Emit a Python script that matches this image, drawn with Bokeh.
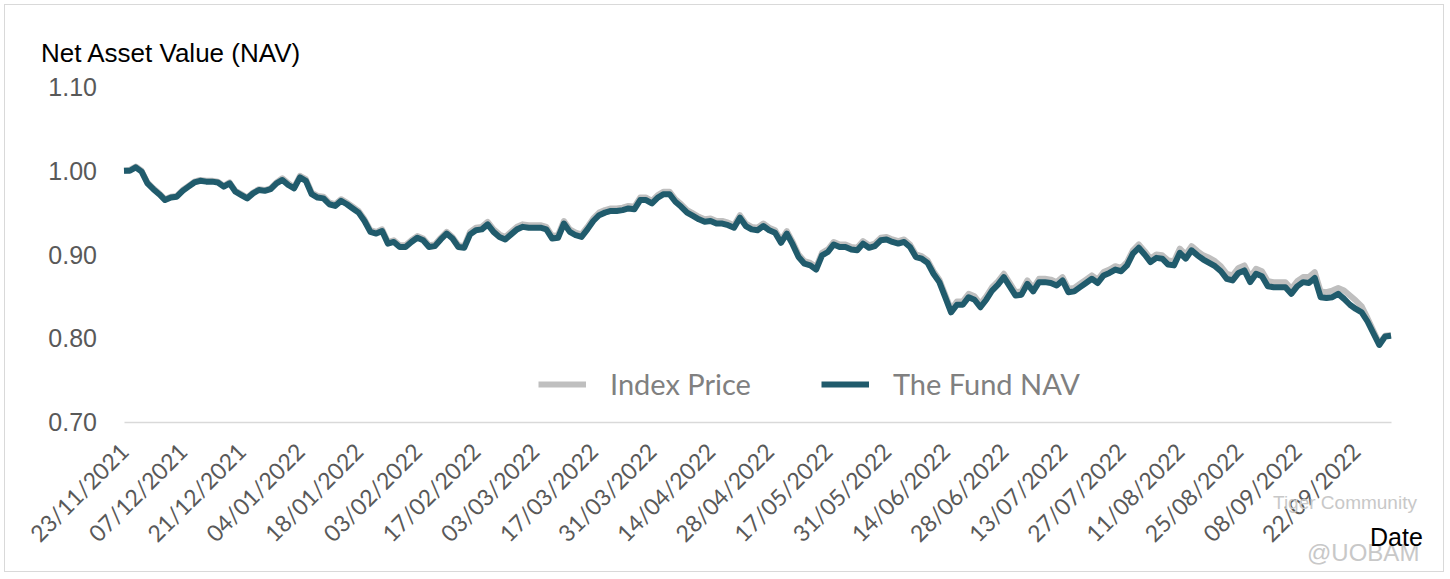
from bokeh.plotting import figure
from bokeh.models import (FixedTicker, Label, Legend, LegendItem, Range1d,
                          NumeralTickFormatter)
from bokeh.embed import file_html
from bokeh.resources import INLINE
from math import pi

# ---------------- data ----------------
tick_labels = ["23/11/2021", "07/12/2021", "21/12/2021", "04/01/2022", "18/01/2022",
               "03/02/2022", "17/02/2022", "03/03/2022", "17/03/2022", "31/03/2022",
               "14/04/2022", "28/04/2022", "17/05/2022", "31/05/2022", "14/06/2022",
               "28/06/2022", "13/07/2022", "27/07/2022", "11/08/2022", "25/08/2022",
               "08/09/2022", "22/09/2022"]
label_every = 10

y_ticks = [0.70, 0.80, 0.90, 1.00, 1.10]

fund_nav = [
    1.000, 1.000, 1.004, 0.999, 0.985, 0.978, 0.972, 0.965, 0.968, 0.969,
    0.976, 0.981, 0.986, 0.988, 0.987, 0.987, 0.986, 0.981, 0.985, 0.975,
    0.971, 0.967, 0.973, 0.977, 0.976, 0.978, 0.985, 0.989, 0.983, 0.979,
    0.992, 0.988, 0.972, 0.968, 0.967, 0.960, 0.958, 0.964, 0.960, 0.955,
    0.950, 0.940, 0.927, 0.925, 0.928, 0.913, 0.915, 0.909, 0.909, 0.915,
    0.920, 0.917, 0.909, 0.910, 0.918, 0.925, 0.919, 0.909, 0.908, 0.924,
    0.929, 0.930, 0.936, 0.927, 0.921, 0.918, 0.924, 0.930, 0.933, 0.932,
    0.932, 0.932, 0.930, 0.919, 0.920, 0.937, 0.927, 0.923, 0.921, 0.930,
    0.940, 0.947, 0.950, 0.952, 0.952, 0.953, 0.955, 0.954, 0.965, 0.965,
    0.961, 0.968, 0.972, 0.972, 0.963, 0.957, 0.950, 0.946, 0.942, 0.939,
    0.940, 0.937, 0.937, 0.935, 0.932, 0.944, 0.934, 0.930, 0.929, 0.934,
    0.929, 0.926, 0.914, 0.925, 0.912, 0.897, 0.889, 0.887, 0.882, 0.899,
    0.903, 0.912, 0.909, 0.909, 0.906, 0.905, 0.913, 0.908, 0.910, 0.917,
    0.918, 0.915, 0.913, 0.915, 0.909, 0.897, 0.895, 0.890, 0.877, 0.867,
    0.849, 0.831, 0.840, 0.840, 0.849, 0.846, 0.837, 0.846, 0.857, 0.864,
    0.873, 0.862, 0.851, 0.852, 0.865, 0.856, 0.867, 0.867, 0.866, 0.863,
    0.869, 0.855, 0.856, 0.861, 0.866, 0.871, 0.866, 0.875, 0.878, 0.882,
    0.880, 0.887, 0.901, 0.908, 0.900, 0.891, 0.896, 0.895, 0.888, 0.887,
    0.902, 0.895, 0.905, 0.899, 0.894, 0.890, 0.886, 0.880, 0.871, 0.869,
    0.878, 0.881, 0.867, 0.877, 0.874, 0.862, 0.861, 0.861, 0.861, 0.853,
    0.862, 0.867, 0.866, 0.872, 0.849, 0.848, 0.849, 0.853, 0.847, 0.840,
    0.835, 0.831, 0.820, 0.806, 0.792, 0.802, 0.803,
]

index_price = [
    1.000, 1.001, 1.005, 1.000, 0.986, 0.979, 0.973, 0.966, 0.969, 0.970,
    0.977, 0.982, 0.987, 0.989, 0.988, 0.988, 0.987, 0.982, 0.986, 0.976,
    0.972, 0.968, 0.974, 0.978, 0.977, 0.979, 0.986, 0.991, 0.985, 0.980,
    0.994, 0.990, 0.974, 0.970, 0.969, 0.962, 0.960, 0.966, 0.962, 0.957,
    0.952, 0.942, 0.929, 0.927, 0.930, 0.915, 0.917, 0.911, 0.911, 0.917,
    0.922, 0.919, 0.911, 0.912, 0.920, 0.927, 0.921, 0.911, 0.910, 0.927,
    0.932, 0.933, 0.939, 0.930, 0.924, 0.921, 0.927, 0.933, 0.936, 0.935,
    0.935, 0.935, 0.933, 0.922, 0.923, 0.940, 0.930, 0.926, 0.924, 0.933,
    0.943, 0.950, 0.953, 0.955, 0.955, 0.956, 0.958, 0.957, 0.968, 0.968,
    0.964, 0.971, 0.975, 0.975, 0.966, 0.960, 0.953, 0.949, 0.945, 0.942,
    0.943, 0.940, 0.940, 0.938, 0.935, 0.947, 0.937, 0.933, 0.932, 0.937,
    0.932, 0.929, 0.917, 0.928, 0.915, 0.900, 0.892, 0.890, 0.885, 0.902,
    0.906, 0.915, 0.912, 0.912, 0.909, 0.908, 0.916, 0.911, 0.913, 0.920,
    0.921, 0.918, 0.916, 0.918, 0.912, 0.900, 0.898, 0.893, 0.880, 0.870,
    0.852, 0.834, 0.844, 0.844, 0.853, 0.850, 0.841, 0.850, 0.861, 0.868,
    0.877, 0.866, 0.855, 0.856, 0.869, 0.860, 0.871, 0.871, 0.870, 0.867,
    0.873, 0.859, 0.860, 0.865, 0.870, 0.875, 0.870, 0.879, 0.882, 0.886,
    0.884, 0.891, 0.905, 0.912, 0.904, 0.895, 0.900, 0.899, 0.893, 0.892,
    0.907, 0.900, 0.910, 0.904, 0.899, 0.896, 0.892, 0.886, 0.877, 0.875,
    0.884, 0.887, 0.873, 0.883, 0.880, 0.868, 0.867, 0.867, 0.867, 0.859,
    0.868, 0.873, 0.873, 0.879, 0.856, 0.855, 0.857, 0.860, 0.857, 0.851,
    0.845, 0.838, 0.824, 0.809, 0.794, 0.803, 0.804,
]

series_names = ["Index Price", "The Fund NAV"]
y_title = "Net Asset Value (NAV)"
x_title = "Date"
watermark = ["Tiger Community", "@UOBAM"]

# ---------------- layout (page pixels of the reference) ----------------
W, H = 1440, 568
O = 5.5                      # canvas origin on the page (margin + border)
X0_PX, X1_PX = 124, 1391     # first / last category
YTOP_PX, YBOT_PX = 87, 422   # 1.10 / 0.70
Y_LO, Y_HI = 0.70, 1.10

n = len(fund_nav)
xs = list(range(n))

px_per_x = (X1_PX - X0_PX) / (n - 1)
px_per_y = (YBOT_PX - YTOP_PX) / (Y_HI - Y_LO)


def dx(px):
    return (px - X0_PX) / px_per_x


def dy(py):
    return Y_HI - (py - YTOP_PX) / px_per_y


x_range = Range1d(dx(O), dx(O + W))
y_range = Range1d(dy(O + H), dy(O))

p = figure(width=W, height=H, output_backend="svg", toolbar_location=None,
           x_range=x_range, y_range=y_range,
           min_border=0, min_border_left=0, min_border_right=0,
           min_border_top=0, min_border_bottom=0)
p.styles = {"border": "1.5px solid #d9d9d9", "margin-left": "4px",
            "margin-top": "4px"}
p.outline_line_color = None
p.background_fill_color = "white"
p.border_fill_color = "white"
p.xgrid.visible = False
p.ygrid.visible = False

# y axis
p.yaxis.fixed_location = 0
p.yaxis.ticker = FixedTicker(ticks=y_ticks)
p.yaxis.formatter = NumeralTickFormatter(format="0.00")
p.yaxis.axis_line_color = None
p.yaxis.major_tick_line_color = None
p.yaxis.minor_tick_line_color = None
p.yaxis.major_tick_out = 0
p.yaxis.major_label_standoff = 27
p.yaxis.major_label_text_font = "Liberation Sans"
p.yaxis.major_label_text_font_size = "25px"
p.yaxis.major_label_text_color = "#595959"

# x axis
tick_pos = [i * label_every for i in range(len(tick_labels))]
p.xaxis.fixed_location = Y_LO
p.xaxis.bounds = (0, n - 1)
p.xaxis.ticker = FixedTicker(ticks=tick_pos)
p.xaxis.major_label_overrides = {t: lab for t, lab in zip(tick_pos, tick_labels)}
p.xaxis.major_label_orientation = pi / 4
p.xaxis.axis_line_color = "#d9d9d9"
p.xaxis.axis_line_width = 1.5
p.xaxis.major_tick_line_color = None
p.xaxis.minor_tick_line_color = None
p.xaxis.major_tick_out = 0
p.xaxis.major_label_standoff = 25
p.xaxis.major_label_text_font = "Lato"
p.xaxis.major_label_text_font_size = "23px"
p.xaxis.major_label_text_color = "#595959"

# lines
r_idx = p.line(xs, index_price, line_color="#bfbfbf", line_width=6,
               line_join="round")
r_fund = p.line(xs, fund_nav, line_color="#205b6c", line_width=6,
                line_join="round")

legend = Legend(items=[LegendItem(label=series_names[0], renderers=[r_idx]),
                       LegendItem(label=series_names[1], renderers=[r_fund])],
                orientation="horizontal", location=(533, 172),
                glyph_width=48, glyph_height=30, label_height=30,
                label_standoff=24, spacing=70, padding=0, margin=0,
                border_line_color=None, background_fill_alpha=0,
                label_text_font="Lato", label_text_font_size="29px",
                label_text_color="#808080")
p.add_layout(legend)

p.add_layout(Label(x=dx(1273), y=dy(502), text=watermark[0],
                   text_font="Liberation Sans", text_font_size="19px",
                   text_color="#c8c8c8", text_baseline="alphabetic"))
p.add_layout(Label(x=dx(1307), y=dy(552), text=watermark[1],
                   text_font="Liberation Sans", text_font_size="24px",
                   text_color="#c8c8c8", text_baseline="alphabetic"))
p.add_layout(Label(x=dx(41), y=dy(53), text=y_title,
                   text_font="Liberation Sans", text_font_size="26px",
                   text_color="black", text_baseline="alphabetic"))
p.add_layout(Label(x=dx(1370), y=dy(537), text=x_title,
                   text_font="Liberation Sans", text_font_size="25px",
                   text_color="black", text_baseline="alphabetic"))

open("out.html", "w").write(file_html(p, INLINE))
